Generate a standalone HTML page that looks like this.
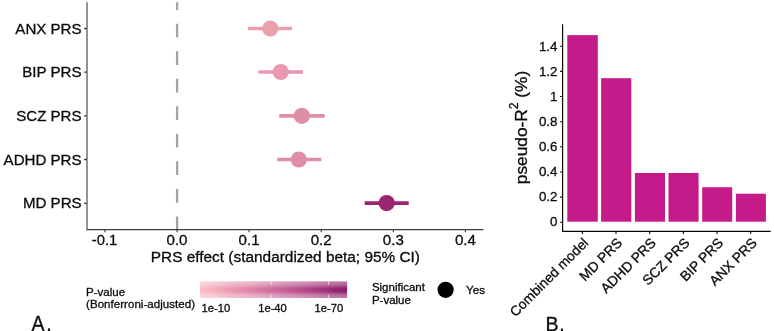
<!DOCTYPE html>
<html>
<head>
<meta charset="utf-8">
<title>PRS effect</title>
<style>
html,body{margin:0;padding:0;background:#ffffff;}
body{width:774px;height:331px;overflow:hidden;font-family:"Liberation Sans",sans-serif;}
svg{display:block;will-change:transform;}
text{font-family:"Liberation Sans",sans-serif;fill:#0a0a0a;stroke:#0a0a0a;stroke-width:0.3px;}
</style>
</head>
<body>
<svg width="774" height="331" viewBox="0 0 774 331">
<defs>
<linearGradient id="pg" x1="0" y1="0" x2="1" y2="0">
<stop offset="0" stop-color="#FBBFC6"/>
<stop offset="0.1" stop-color="#F5ADBC"/>
<stop offset="0.2" stop-color="#EC9CB3"/>
<stop offset="0.3" stop-color="#E28CAB"/>
<stop offset="0.4" stop-color="#D87CA3"/>
<stop offset="0.5" stop-color="#CD6C9B"/>
<stop offset="0.6" stop-color="#C15C93"/>
<stop offset="0.7" stop-color="#B44B8A"/>
<stop offset="0.8" stop-color="#A73B80"/>
<stop offset="0.9" stop-color="#9A2A75"/>
<stop offset="1" stop-color="#8D1A69"/>
</linearGradient>
<linearGradient id="vg" x1="0" y1="0" x2="0" y2="1">
<stop offset="0" stop-color="#ffffff" stop-opacity="0.42"/>
<stop offset="0.2" stop-color="#ffffff" stop-opacity="0.3"/>
<stop offset="0.42" stop-color="#ffffff" stop-opacity="0"/>
<stop offset="0.6" stop-color="#ffffff" stop-opacity="0"/>
<stop offset="0.8" stop-color="#ffffff" stop-opacity="0.3"/>
<stop offset="1" stop-color="#ffffff" stop-opacity="0.42"/>
</linearGradient>
</defs>
<rect x="0" y="0" width="774" height="331" fill="#ffffff"/>

<!-- ===== Panel A ===== -->
<g id="panelA">
<!-- zero reference line -->
<line x1="177.1" y1="230.2" x2="177.1" y2="2.3" stroke="#A3A3A3" stroke-width="2.3" stroke-dasharray="13.77 13.77"/>
<!-- CI lines and points -->
<g stroke-width="3.7" stroke-linecap="butt">
<line x1="248" y1="28.5" x2="292" y2="28.5" stroke="#EBA0AE"/>
<line x1="258.3" y1="72" x2="303" y2="72" stroke="#E899AB"/>
<line x1="279.3" y1="115.8" x2="324.7" y2="115.8" stroke="#E08DA6"/>
<line x1="277.2" y1="159.5" x2="321.3" y2="159.5" stroke="#E08EA7"/>
<line x1="364.7" y1="203.1" x2="408.7" y2="203.1" stroke="#9B2570"/>
</g>
<circle cx="270.3" cy="28.5" r="8.1" fill="#EBA0AE"/>
<circle cx="280.8" cy="72" r="8.1" fill="#E899AB"/>
<circle cx="301.8" cy="115.8" r="8.1" fill="#E08DA6"/>
<circle cx="298.8" cy="159.5" r="8.1" fill="#E08EA7"/>
<circle cx="386.7" cy="203.1" r="8.1" fill="#9B2570"/>
<!-- axes -->
<g stroke="#3d3d3d" stroke-width="1.1" fill="none">
<path d="M87 2.3 V229.6 H483.5"/>
<path stroke="#2a2a2a" stroke-width="1.3" d="M84.2 28.5 H86.6 M84.2 72.1 H86.6 M84.2 115.8 H86.6 M84.2 159.5 H86.6 M84.2 203.3 H86.6"/>
<path d="M104.9 229.6 V232.2 M177 229.6 V232.2 M249.1 229.6 V232.2 M321.2 229.6 V232.2 M393.3 229.6 V232.2 M465.4 229.6 V232.2"/>
</g>
<!-- y labels -->
<g font-size="15.1" text-anchor="end">
<text x="81.6" y="33.6">ANX PRS</text>
<text x="81.6" y="77.1">BIP PRS</text>
<text x="81.6" y="120.9">SCZ PRS</text>
<text x="81.6" y="164.6">ADHD PRS</text>
<text x="81.6" y="208.3">MD PRS</text>
</g>
<!-- x labels -->
<g font-size="15.1" text-anchor="middle">
<text transform="translate(104.6,245.4) scale(0.98,1.03)">-0.1</text>
<text transform="translate(177,245.4) scale(1,1.03)">0.0</text>
<text transform="translate(249.1,245.4) scale(1,1.03)">0.1</text>
<text transform="translate(321.2,245.4) scale(1,1.03)">0.2</text>
<text transform="translate(393.3,245.4) scale(1,1.03)">0.3</text>
<text transform="translate(465.4,245.4) scale(1,1.03)">0.4</text>
</g>
<text x="285.4" y="262.2" font-size="15.4" text-anchor="middle">PRS effect (standardized beta; 95% CI)</text>
<!-- legend -->
<g font-size="11.5" stroke-width="0.2">
<text x="86.1" y="296.2">P-value</text>
<text x="86.1" y="308.1" textLength="108.9" lengthAdjust="spacing">(Bonferroni-adjusted)</text>
<text x="215.8" y="311.9" text-anchor="middle" font-size="11.2">1e-10</text>
<text x="272.5" y="311.9" text-anchor="middle" font-size="11.2">1e-40</text>
<text x="328.9" y="311.9" text-anchor="middle" font-size="11.2">1e-70</text>
<text x="371.9" y="290.7">Significant</text>
<text x="371.9" y="303.7">P-value</text>
</g>
<rect x="200" y="281.5" width="147.1" height="16.5" fill="url(#pg)"/>
<rect x="200" y="281.5" width="147.1" height="16.5" fill="url(#vg)"/>
<g stroke="#ffffff" stroke-width="0.8" stroke-opacity="0.85">
<path stroke-opacity="0.3" d="M215.8 281.5 V284.8 M215.8 294.7 V298"/><path d="M271.2 281.5 V284.8 M271.2 294.7 V298 M328.4 281.5 V284.8 M328.4 294.7 V298"/>
</g>
<circle cx="445.6" cy="289.8" r="8.1" fill="#000000"/>
<text x="466.1" y="293.8" font-size="11.6" stroke-width="0.2">Yes</text>
<text transform="translate(31.6,330.7) scale(1,1.09)" font-size="19.6">A<tspan dx="1.6">.</tspan></text>
</g>

<!-- ===== Panel B ===== -->
<g id="panelB">
<g fill="#C51B8A">
<rect x="567.3" y="35.1" width="30.5" height="186.6"/>
<rect x="601.1" y="78.2" width="30.2" height="143.5"/>
<rect x="634.9" y="173" width="30.1" height="48.7"/>
<rect x="668.5" y="173" width="30.1" height="48.7"/>
<rect x="702.2" y="187.2" width="30" height="34.5"/>
<rect x="735.9" y="193.7" width="30" height="28"/>
</g>
<g stroke="#0a0a0a" stroke-width="1.2" fill="none">
<path d="M562.6 24.2 V231.3 H770.8"/>
<path stroke-width="1.1" d="M560.1 46.3 H562.6 M560.1 71.4 H562.6 M560.1 96.5 H562.6 M560.1 121.7 H562.6 M560.1 146.8 H562.6 M560.1 172.0 H562.6 M560.1 197.1 H562.6 M560.1 222.2 H562.6"/>
<path stroke-width="1.1" d="M582.3 231.3 V233.9 M616.0 231.3 V233.9 M649.7 231.3 V233.9 M683.4 231.3 V233.9 M717.0 231.3 V233.9 M750.7 231.3 V233.9"/>
</g>
<g font-size="13.3" text-anchor="end" transform="translate(-0.9,-0.5)">
<text x="558.3" y="51">1.4</text>
<text x="558.3" y="76.1">1.2</text>
<text x="558.3" y="101.2">1</text>
<text x="558.3" y="126.4">0.8</text>
<text x="558.3" y="151.5">0.6</text>
<text x="558.3" y="176.7">0.4</text>
<text x="558.3" y="201.8">0.2</text>
<text x="558.3" y="226.9">0</text>
</g>
<text transform="translate(527.3,127.5) rotate(-90)" font-size="17.3" text-anchor="middle" stroke-width="0.12">pseudo-R<tspan font-size="12.2" dy="-9.7">2</tspan><tspan dy="9.7"> (%)</tspan></text>
<g font-size="13.8" text-anchor="end">
<text transform="translate(589.3,243.7) rotate(-45)">Combined model</text>
<text transform="translate(623.0,243.7) rotate(-45)">MD PRS</text>
<text transform="translate(656.7,243.7) rotate(-45)">ADHD PRS</text>
<text transform="translate(690.4,243.7) rotate(-45)">SCZ PRS</text>
<text transform="translate(724.1,243.7) rotate(-45)">BIP PRS</text>
<text transform="translate(757.8,243.7) rotate(-45)">ANX PRS</text>
</g>
<text transform="translate(545.6,330.7) scale(1,1.04)" font-size="19.6">B<tspan dx="0.6">.</tspan></text>
</g>
</svg>
</body>
</html>
